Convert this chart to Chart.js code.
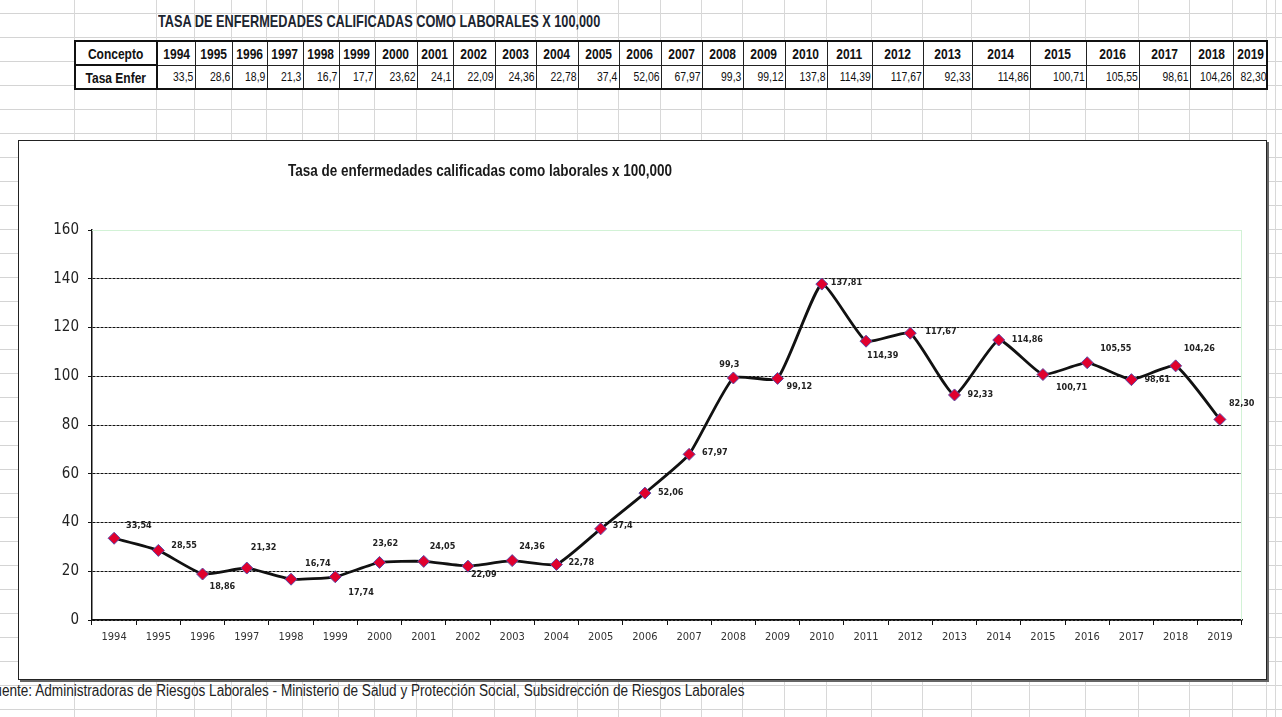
<!DOCTYPE html>
<html>
<head>
<meta charset="utf-8">
<script src="https://cdn.jsdelivr.net/npm/chart.js@4.4.1/dist/chart.umd.min.js"></script>
<style>
  html, body { margin: 0; padding: 0; background: #fff; }
  body { width: 1282px; height: 717px; position: relative; overflow: hidden;
    font-family: 'Liberation Sans', Arial, sans-serif; }
  #sheet { position: absolute; left: 0; top: 0; width: 1282px; height: 717px;
    background: repeating-linear-gradient(to bottom, transparent 0, transparent 13px, #d4d4d4 13px, #d4d4d4 14px, transparent 14px, transparent 24px); }
  .vline { position: absolute; top: 0; width: 1px; height: 717px; background: #d8d8d8; }
  .fit { position: absolute; white-space: nowrap; transform-origin: 0 50%; }
  #sheetTitle { left: 158px; top: 12px; font-weight: bold; font-size: 17px; color: #1c2530; }
  #tbl { position: absolute; left: 74px; top: 40px; border-collapse: collapse; table-layout: fixed;
    border: 2px solid #111; background: #fff; }
  #tbl td { border: 1px solid #222; height: 22px; padding: 0; color: #111; white-space: nowrap; }
  #tbl td span { display: inline-block; }
  #tbl tr.head td { font-weight: bold; text-align: center; font-size: 15px; }
  #tbl tr.head td span { transform: scaleX(0.8); transform-origin: 50% 50%; }
  #tbl tr.vals td { text-align: right; font-size: 13px; padding-right: 1px; }
  #tbl tr.vals td span { transform: scaleX(0.8); transform-origin: 100% 50%; }
  #tbl td.first { font-weight: bold; text-align: center !important; border: 2px solid #111; }
  #tbl tr.vals td.first { font-size: 15px; }
  #tbl tr.vals td.first span { transform-origin: 50% 50%; }
  #box { position: absolute; left: 18px; top: 140px; width: 1249px; height: 540px; box-sizing: border-box;
    border: 1px solid #222; background: #fff; box-shadow: 2px 2px 0 #666; }
  #chartTitle { left: 288px; top: 162px; font-weight: bold; font-size: 16px; color: #1a1a1a; }
  #source { left: 0; top: 682px; font-size: 16px; color: #222; }
</style>
</head>
<body>
<div id="sheet"></div>
<div id="sheetTitle" class="fit">TASA DE ENFERMEDADES CALIFICADAS COMO LABORALES X 100,000</div>
<table id="tbl"><colgroup id="cols"></colgroup><tbody>
  <tr class="head" id="headRow"></tr>
  <tr class="vals" id="valRow"></tr>
</tbody></table>
<div id="box"><canvas id="chart" width="1247" height="538"></canvas></div>
<div id="chartTitle" class="fit">Tasa de enfermedades calificadas como laborales x 100,000</div>
<div id="source" class="fit"><span id="cut">Fu</span>ente: Administradoras de Riesgos Laborales - Ministerio de Salud y Protección Social, Subsidrección de Riesgos Laborales</div>

<script>
const years = ['1994', '1995', '1996', '1997', '1998', '1999', '2000', '2001', '2002', '2003', '2004', '2005', '2006',
  '2007', '2008', '2009', '2010', '2011', '2012', '2013', '2014', '2015', '2016', '2017', '2018', '2019'];

// values as printed in the spreadsheet row
const tableValues = ['33,5', '28,6', '18,9', '21,3', '16,7', '17,7', '23,62', '24,1', '22,09', '24,36', '22,78', '37,4',
  '52,06', '67,97', '99,3', '99,12', '137,8', '114,39', '117,67', '92,33', '114,86', '100,71', '105,55', '98,61',
  '104,26', '82,30'];

// values plotted in the chart
const rates = [33.54, 28.55, 18.86, 21.32, 16.74, 17.74, 23.62, 24.05, 22.09, 24.36, 22.78, 37.4, 52.06, 67.97,
  99.3, 99.12, 137.81, 114.39, 117.67, 92.33, 114.86, 100.71, 105.55, 98.61, 104.26, 82.30];
const pointLabels = ['33,54', '28,55', '18,86', '21,32', '16,74', '17,74', '23,62', '24,05', '22,09', '24,36', '22,78',
  '37,4', '52,06', '67,97', '99,3', '99,12', '137,81', '114,39', '117,67', '92,33', '114,86', '100,71', '105,55',
  '98,61', '104,26', '82,30'];

const yTicks = [0, 20, 40, 60, 80, 100, 120, 140, 160];

// layout of the sheet, label nudges
const colWidths = [82, 38, 37, 35, 36, 36, 36, 42, 36, 42, 41, 42, 41, 42, 41, 41, 42, 42, 45, 51, 49, 58, 56, 53, 51, 43, 34];
const labelNudge = [[12, -13], [13, -5], [7, 13], [4, -20], [14, -16], [13, 16], [-7, -19], [6, -15], [3, 9], [7, -14],
  [12, -2], [12, -3], [13, 0], [13, -2], [-14, -13], [9, 8], [9, -1], [1, 14], [15, -2], [13, 0], [13, 0], [13, 13],
  [13, -14], [13, 0], [8, -17], [9, -16]];

// squeeze a text block to a given width (the original uses a narrow face)
function fitWidth(id, w) {
  const el = document.getElementById(id);
  el.style.transform = 'scaleX(' + (w / el.offsetWidth) + ')';
}
fitWidth('sheetTitle', 442);
fitWidth('chartTitle', 384);
(() => {
  const el = document.getElementById('source');
  const cut = document.getElementById('cut').offsetWidth;
  const s = 744 / (el.offsetWidth - cut + 2);
  el.style.transform = 'scaleX(' + s + ')';
  el.style.left = (2 - cut * s) + 'px';
})();

// spreadsheet table
const cols = document.getElementById('cols');
const headRow = document.getElementById('headRow');
const valRow = document.getElementById('valRow');
let edge = 74;
const edges = [edge];
colWidths.forEach((w) => {
  const c = document.createElement('col');
  c.style.width = w + 'px';
  cols.appendChild(c);
  edge += w;
  edges.push(edge);
});
document.getElementById('tbl').style.width = (edge - 74) + 'px';
function addCell(row, text, first) {
  const td = document.createElement('td');
  const sp = document.createElement('span');
  sp.textContent = text;
  td.appendChild(sp);
  if (first) td.className = 'first';
  row.appendChild(td);
}
['Concepto'].concat(years).forEach((t, i) => addCell(headRow, t, i === 0));
['Tasa Enfer'].concat(tableValues).forEach((t, i) => addCell(valRow, t, i === 0));

const sheet = document.getElementById('sheet');
edges.concat([1275]).forEach((x) => {
  const d = document.createElement('div');
  d.className = 'vline';
  d.style.left = x + 'px';
  sheet.appendChild(d);
});

const FONT = "'DejaVu Sans Condensed', 'Liberation Sans', sans-serif";
Chart.defaults.font.family = FONT;
Chart.defaults.color = '#222';

const plotFrame = {
  id: 'plotFrame',
  beforeDatasetsDraw(chart) {
    const a = chart.chartArea;
    const ctx = chart.ctx;
    ctx.save();
    ctx.strokeStyle = '#d2f2d6';
    ctx.lineWidth = 1;
    ctx.beginPath();
    ctx.moveTo(a.left, a.top + 0.5);
    ctx.lineTo(a.right - 0.5, a.top + 0.5);
    ctx.lineTo(a.right - 0.5, a.bottom);
    ctx.stroke();
    ctx.restore();
  },
};

const pointText = {
  id: 'pointText',
  afterDatasetsDraw(chart) {
    const ctx = chart.ctx;
    const meta = chart.getDatasetMeta(0);
    ctx.save();
    ctx.font = 'bold 9px ' + FONT;
    ctx.fillStyle = '#222';
    ctx.textAlign = 'left';
    ctx.textBaseline = 'middle';
    meta.data.forEach((pt, i) => {
      const n = labelNudge[i];
      ctx.fillText(pointLabels[i], pt.x + n[0], pt.y + n[1]);
    });
    ctx.restore();
  },
};

new Chart(document.getElementById('chart'), {
  type: 'line',
  data: {
    labels: years,
    datasets: [{
      data: rates,
      borderColor: '#111',
      borderWidth: 2.8,
      tension: 0.15,
      pointStyle: 'rectRot',
      pointRadius: 6,
      pointBackgroundColor: '#e0002e',
      pointBorderColor: '#5a4aa8',
      pointBorderWidth: 1,
    }],
  },
  options: {
    responsive: false,
    animation: false,
    events: [],
    layout: { padding: { left: 0, top: 89, right: 24, bottom: 0 } },
    plugins: { legend: { display: false }, tooltip: { enabled: false }, title: { display: false } },
    scales: {
      x: {
        offset: true,
        afterFit: (s) => { s.height = 59; },
        border: { color: '#111', width: 1.5 },
        grid: { offset: true, drawOnChartArea: false, tickLength: 5, color: '#111', tickWidth: 1 },
        ticks: { font: { size: 11 }, color: '#333', padding: 6, maxRotation: 0, autoSkip: false },
      },
      y: {
        min: 0,
        max: 160,
        afterFit: (s) => { s.width = 73; },
        afterBuildTicks: (s) => { s.ticks = yTicks.map((v) => ({ value: v })); },
        border: {
          color: '#111',
          width: 1.5,
          dash: (c) => (c.tick && c.tick.value === 160 ? [] : [3, 1]),
        },
        grid: {
          color: (c) => (c.tick && c.tick.value === 160 ? '#d2f2d6' : '#111'),
          lineWidth: 1,
          tickLength: 4,
          tickColor: '#111',
        },
        ticks: { font: { size: 15 }, color: '#222', padding: 9 },
      },
    },
  },
  plugins: [plotFrame, pointText],
});
</script>
</body>
</html>
